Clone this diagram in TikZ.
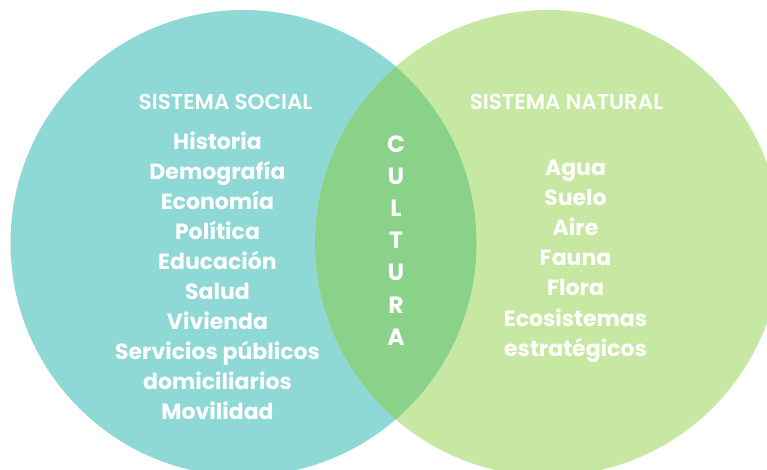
\documentclass[tikz,border=0pt]{standalone}
\usepackage{fontspec}
\setmainfont{Poppins}
\newfontfamily\headfont{Poppins SemiBold}
\usepackage{tikz}

\definecolor{socialTeal}{HTML}{8ED8D6}
\definecolor{naturalGreen}{HTML}{C7E8A2}
\definecolor{cultureGreen}{HTML}{8AD28A}

\begin{document}
\begin{tikzpicture}[x=1pt,y=-1pt,
        head/.style={text=white, font=\headfont\fontsize{21.5}{23}\selectfont, anchor=base, inner sep=0pt},
        item/.style={text=white, font=\bfseries\fontsize{22}{25}\selectfont, anchor=base, inner sep=0pt}]
        \def\rad{233}
        \def\gap{30}

        \useasboundingbox (0,0) rectangle (767,469);

        \coordinate (cSoc) at (243.5,243);
        \coordinate (cNat) at (548,243);

        \fill[socialTeal] (cSoc) circle (\rad);
        \fill[naturalGreen] (cNat) circle (\rad);
        \begin{scope}
            \clip (cSoc) circle (\rad);
            \fill[cultureGreen] (cNat) circle (\rad);
        \end{scope}

        \node[head] (socTitle) at (225.5,109) {SISTEMA SOCIAL};
        \node[head] (natTitle) at (566.5,109) {SISTEMA NATURAL};

        \foreach \t [count=\i] in {Historia,Demografía,Economía,Política,Educación,Salud,Vivienda,Servicios públicos,domiciliarios,Movilidad}
            \node[item] (soc\i) at (217.5,{149+\gap*(\i-1)}) {\t};

        \foreach \t [count=\i] in {Agua,Suelo,Aire,Fauna,Flora,Ecosistemas,estratégicos}
            \node[item] (nat\i) at (575.5,{175+30.2*(\i-1)}) {\t};

        % la palabra en vertical
        \foreach \t [count=\i] in {C,U,L,T,U,R,A}
            \node[item, font=\bfseries\fontsize{23.5}{26}\selectfont] (cul\i) at (396,{152+32.2*(\i-1)}) {\t};

    \end{tikzpicture}
\end{document}
